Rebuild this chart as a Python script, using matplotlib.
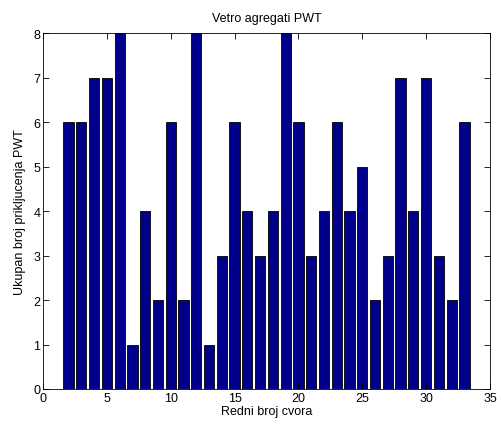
import matplotlib
matplotlib.use("Agg")
import matplotlib.pyplot as plt

# node numbers and number of connected wind generators
cvor = list(range(2, 34))
broj_pwt = [6, 6, 7, 7, 8, 1, 4, 2, 6, 2, 8, 1, 3, 6, 4, 3,
            4, 8, 6, 3, 4, 6, 4, 5, 2, 3, 7, 4, 7, 3, 2, 6]

plt.rcParams["font.family"] = ["Liberation Sans", "DejaVu Sans"]
plt.rcParams["font.size"] = 9

fig = plt.figure(figsize=(5.02, 4.27), dpi=100)
ax = fig.add_axes([0.0857, 0.0867, 0.8903, 0.8333])

ax.bar(cvor, broj_pwt, width=0.8, color="#00008b", edgecolor="black", linewidth=0.6)

ax.set_xlim(0, 35)
ax.set_ylim(0, 8)
ax.set_xticks(range(0, 36, 5))
ax.set_yticks(range(0, 9))
ax.tick_params(direction="in", top=True, right=True, length=4, width=0.6, pad=2)
for s in ax.spines.values():
    s.set_linewidth(0.6)

ax.set_title("Vetro agregati PWT", fontsize=9, pad=9)
ax.set_xlabel("Redni broj cvora", labelpad=1)
ax.set_ylabel("Ukupan broj prikljucenja PWT", labelpad=5)

fig.savefig("out.png", dpi=100)
